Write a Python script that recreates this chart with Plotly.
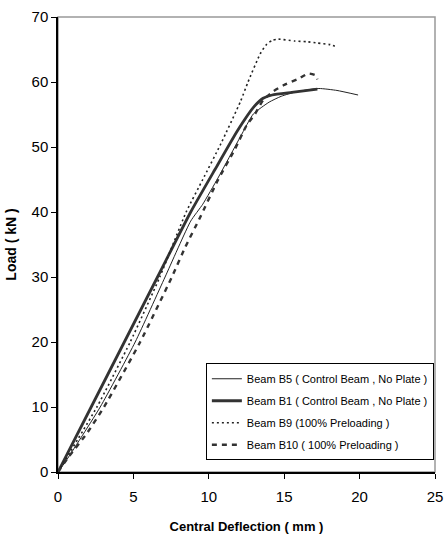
import plotly.graph_objects as go

# Beam B5 (thin solid)
b5_x = [0, 0.5, 2.8, 5.12, 7.1, 8.8, 9.6, 10.6, 12.1, 12.96, 14.0, 14.8, 15.8, 17.3, 18.5, 19.9]
b5_y = [0, 1.6, 10.0, 20.0, 30.0, 38.6, 41.2, 45.2, 51.6, 55.1, 56.9, 57.8, 58.5, 59.0, 58.7, 58.0]
# Beam B1 (thick solid)
b1_x = [0, 2.2, 4.4, 6.6, 8.8, 10.4, 11.9, 13.0, 13.6, 14.2, 15.5, 17.2]
b1_y = [0, 10.0, 20.0, 30.0, 40.0, 46.5, 52.5, 56.2, 57.5, 58.0, 58.4, 58.9]
# Beam B9 (dotted)
b9_x = [0, 2.58, 4.79, 6.75, 8.5, 9.6, 10.8, 12.1, 12.6, 13.4, 13.8, 14.2, 14.6, 15.7, 16.5, 17.2, 18.05, 18.45]
b9_y = [0, 10.0, 20.0, 30.0, 40.0, 45.0, 50.5, 57.0, 60.0, 64.3, 65.7, 66.4, 66.6, 66.3, 66.2, 66.0, 65.75, 65.4]
# Beam B10 (dashed)
b10_x = [0, 0.7, 1.9, 3.05, 5.45, 7.55, 8.44, 9.43, 10.6, 11.75, 12.5, 13.07, 13.6, 14.3, 14.95, 15.95, 16.6, 17.1, 17.2]
b10_y = [0, 2.3, 5.9, 10.0, 20.0, 30.0, 34.6, 39.2, 44.9, 49.75, 53.3, 55.1, 57.2, 58.6, 59.5, 60.5, 61.3, 61.0, 60.4]

names = [
    "Beam B5 ( Control Beam , No Plate )",
    "Beam B1 ( Control Beam , No Plate )",
    "Beam B9 (100% Preloading )",
    "Beam B10 ( 100% Preloading )",
]

x_ticks = [0, 5, 10, 15, 20, 25]
y_ticks = [0, 10, 20, 30, 40, 50, 60, 70]

styles = [
    dict(color="#222222", width=1, shape="spline", smoothing=0.5),
    dict(color="#333333", width=2.8, shape="spline", smoothing=0.5),
    dict(color="#222222", width=1.6, dash="2px,3px", shape="spline", smoothing=0.5),
    dict(color="#333333", width=2.4, dash="5px,5px", shape="spline", smoothing=0.5),
]
series = [(b5_x, b5_y), (b1_x, b1_y), (b9_x, b9_y), (b10_x, b10_y)]

fig = go.Figure()
for i, ((xs, ys), nm, st) in enumerate(zip(series, names, styles)):
    fig.add_trace(go.Scatter(x=xs, y=ys, mode="lines", name=nm, line=st,
                             legendgroup=f"g{i}"))

fig.add_shape(type="rect", xref="paper", yref="paper", x0=0, y0=0, x1=1, y1=1,
              line=dict(color="#999999", width=1.5), layer="below")

fig.update_layout(
    width=444, height=542,
    margin=dict(l=58, r=9, t=17, b=70, autoexpand=False),
    paper_bgcolor="white", plot_bgcolor="white",
    font=dict(family="Liberation Sans, Arial", color="black", size=14),
    showlegend=True,
    legend=dict(x=0.997, y=0.239, xanchor="right", yanchor="top",
                bgcolor="white", bordercolor="black", borderwidth=1,
                font=dict(family="Liberation Sans, Arial", size=11),
                traceorder="grouped", tracegroupgap=3, itemwidth=30),
    xaxis=dict(range=[0, 25], tickvals=x_ticks, showgrid=False, zeroline=False,
               showline=True, linecolor="black", linewidth=1.5,
               ticks="outside", ticklen=5, tickcolor="black",
               tickfont=dict(size=15), ticklabelstandoff=5,
               title=dict(text="<b>Central Deflection ( mm )</b>", standoff=18,
                          font=dict(family="Liberation Sans, Arial", size=13))),
    yaxis=dict(range=[0, 70], tickvals=y_ticks, showgrid=False, zeroline=False,
               showline=True, linecolor="black", linewidth=1.5,
               ticks="outside", ticklen=5, tickcolor="black",
               tickfont=dict(size=15),
               title=dict(text="<b>Load ( kN )</b>", standoff=12,
                          font=dict(family="Liberation Sans, Arial", size=14))),
)

fig.write_html("out.html")
